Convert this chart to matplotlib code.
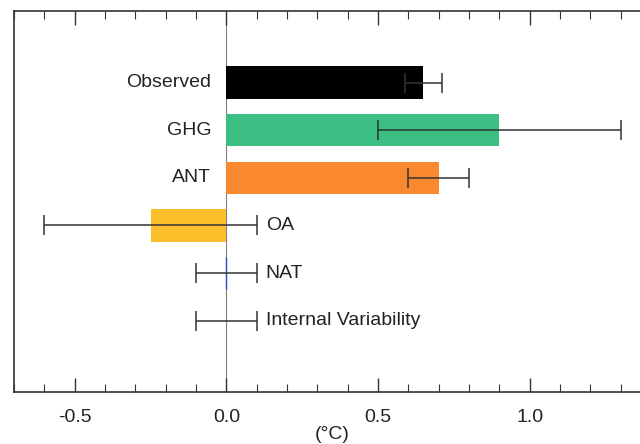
import numpy as np
import matplotlib
matplotlib.use("Agg")
import matplotlib.pyplot as plt
from matplotlib.ticker import MultipleLocator

plt.rcParams['font.family'] = ['Liberation Sans', 'DejaVu Sans']

names = ["Observed", "GHG", "ANT", "OA", "NAT", "Internal Variability"]
values = [0.65, 0.9, 0.7, -0.25, 0.0, None]
err_lo = [0.59, 0.5, 0.6, -0.6, -0.1, -0.1]
err_hi = [0.71, 1.3, 0.8, 0.1, 0.1, 0.1]
colors = ["#000000", "#3cbf82", "#fa882f", "#fcbf2c", "#3050c8", None]

ypos = np.arange(len(names), 0, -1)  # 6 .. 1
bar_h = 0.68

fig = plt.figure(figsize=(6.4, 4.44), dpi=100)
ax = fig.add_axes([0.022, 0.117, 0.995, 0.858])

ax.axvline(0, color="#808080", lw=0.8, zorder=1)

for i in range(len(names)):
    y = ypos[i]
    v = values[i]
    if v is not None and v != 0:
        ax.barh(y, v, height=bar_h, color=colors[i], zorder=2)
    elif v == 0:
        ax.vlines(v, y - bar_h / 2, y + bar_h / 2, color=colors[i], lw=1.0, zorder=3)
    mid = (err_lo[i] + err_hi[i]) / 2
    ax.errorbar(mid, y, xerr=[[mid - err_lo[i]], [err_hi[i] - mid]], fmt="none",
                ecolor="#333333", elinewidth=1.1, capsize=7, capthick=1.1, zorder=4)
    if v is not None and v > 0:
        ax.text(-0.05, y, names[i], ha="right", va="center", fontsize=14, color="#222222")
    else:
        ax.text(0.13, y, names[i], ha="left", va="center", fontsize=14, color="#222222")

ax.set_xlim(-0.7, 1.4)
ax.set_ylim(-0.5, 7.5)
ax.set_yticks([])
ax.xaxis.set_major_locator(MultipleLocator(0.5))
ax.xaxis.set_minor_locator(MultipleLocator(0.1))
ax.set_xticks([-0.5, 0.0, 0.5, 1.0])
ax.set_xticklabels(["-0.5", "0.0", "0.5", "1.0"])
ax.tick_params(axis="x", which="both", direction="in", top=True, bottom=True,
               labelsize=14, labelcolor="#222222", color="#333333")
ax.tick_params(axis="x", which="major", length=10, width=1.0, pad=12)
ax.tick_params(axis="x", which="minor", length=5.5, width=0.8)
ax.set_xlabel("(°C)", fontsize=14, color="#222222", labelpad=0)

for s in ax.spines.values():
    s.set_color("#333333")
    s.set_linewidth(1.2)

fig.savefig("out.png", dpi=100)
